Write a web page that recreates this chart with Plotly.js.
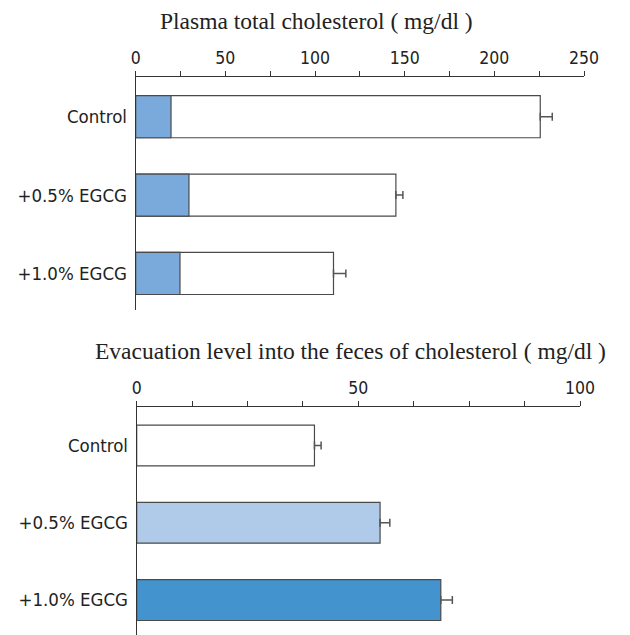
<!DOCTYPE html>
<html>
<head>
<meta charset="utf-8">
<script src="https://cdn.plot.ly/plotly-3.0.1.min.js"></script>
<style>html,body{margin:0;padding:0;background:#fff;}#chart{width:630px;height:635px;}</style>
</head>
<body>
<div id="chart"></div>
<script>
// Categories
const groups = ["Control", "+0.5% EGCG", "+1.0% EGCG"];

// Top panel: plasma total cholesterol (mg/dl)
const plasmaTotal = [225.6, 145.1, 110.3];
const plasmaTotalErr = [6.7, 3.9, 6.9];
const plasmaBlue = [19.7, 29.7, 24.7];

// Bottom panel: evacuation into feces (mg/dl)
const fecesChol = [40.1, 54.9, 68.6];
const fecesErr = [1.5, 2.2, 2.6];

const topTitle = "Plasma total cholesterol ( mg/dl )";
const bottomTitle = "Evacuation level into the feces of cholesterol ( mg/dl )";
const topTicks = [0, 50, 100, 150, 200, 250];
const bottomTicks = [0, 50, 100];

const edge = "#4a4a4a";
const errCol = "#555555";
const sansNarrow = "'Liberation Sans Narrow', 'DejaVu Sans Condensed', 'Liberation Sans', Arial, sans-serif";
const serif = "'Liberation Serif', 'DejaVu Serif', serif";

const traces = [
  {
    type: "bar", orientation: "h", y: groups, x: plasmaTotal,
    xaxis: "x", yaxis: "y", width: 0.536,
    marker: {color: "#ffffff", line: {color: edge, width: 1.2}},
    error_x: {type: "data", array: plasmaTotalErr, arrayminus: [0,0,0], symmetric: false,
              color: errCol, thickness: 1.5, width: 4},
    hoverinfo: "x+y", showlegend: false
  },
  {
    type: "bar", orientation: "h", y: groups, x: plasmaBlue,
    xaxis: "x", yaxis: "y", width: 0.536,
    marker: {color: "#7aaadc", line: {color: edge, width: 1.2}},
    hoverinfo: "x+y", showlegend: false
  },
  {
    type: "bar", orientation: "h", y: groups, x: fecesChol,
    xaxis: "x2", yaxis: "y2", width: 0.53,
    marker: {color: ["#ffffff", "#afcbe9", "#4393cf"], line: {color: edge, width: 1.2}},
    error_x: {type: "data", array: fecesErr, arrayminus: [0,0,0], symmetric: false,
              color: errCol, thickness: 1.5, width: 4},
    hoverinfo: "x+y", showlegend: false
  }
];

const xCommon = {
  side: "top", showline: true, linecolor: "#333", linewidth: 1,
  ticks: "outside", ticklen: 5, tickcolor: "#333", tickwidth: 1,
  showgrid: false, zeroline: false, fixedrange: true,
  tickfont: {family: sansNarrow, size: 17.5, color: "#222"}
};
const yCommon = {
  type: "category", showline: true, linecolor: "#333", linewidth: 1,
  ticks: "", showgrid: false, zeroline: false, fixedrange: true,
  tickfont: {family: sansNarrow, size: 18.5, color: "#222"}, ticklabelstandoff: 4
};

const layout = {
  width: 630, height: 635,
  margin: {l: 0, r: 0, t: 0, b: 0},
  paper_bgcolor: "#fff", plot_bgcolor: "#fff",
  barmode: "overlay",
  showlegend: false,
  xaxis: Object.assign({}, xCommon, {
    domain: [135.7/630, 584/630], anchor: "y", range: [0, 250],
    tickvals: topTicks, ticktext: topTicks.map(String),
    minor: {dtick: 25, tick0: 0, ticks: "outside", ticklen: 5, tickcolor: "#333", tickwidth: 1}
  }),
  yaxis: Object.assign({}, yCommon, {
    domain: [1 - 310/635, 1 - 77.3/635], anchor: "x",
    range: [2.466, -0.503]
  }),
  xaxis2: Object.assign({}, xCommon, {
    domain: [136.7/630, 580/630], anchor: "y2", range: [0, 100],
    tickvals: bottomTicks, ticktext: bottomTicks.map(String),
    minor: {dtick: 12.5, tick0: 0, ticks: "outside", ticklen: 5, tickcolor: "#333", tickwidth: 1}
  }),
  yaxis2: Object.assign({}, yCommon, {
    domain: [0, 1 - 407.3/635], anchor: "x2",
    range: [2.453, -0.4945]
  }),
  annotations: [
    {text: topTitle, xref: "paper", yref: "paper", x: 316/630, y: 1 - 21/635,
     xanchor: "center", yanchor: "middle", showarrow: false,
     font: {family: serif, size: 23.5, color: "#222"}},
    {text: bottomTitle, xref: "paper", yref: "paper", x: 350/630, y: 1 - 351/635,
     xanchor: "center", yanchor: "middle", showarrow: false,
     font: {family: serif, size: 23.5, color: "#222"}}
  ]
};

Plotly.newPlot("chart", traces, layout, {displayModeBar: false, staticPlot: true});
</script>
</body>
</html>
